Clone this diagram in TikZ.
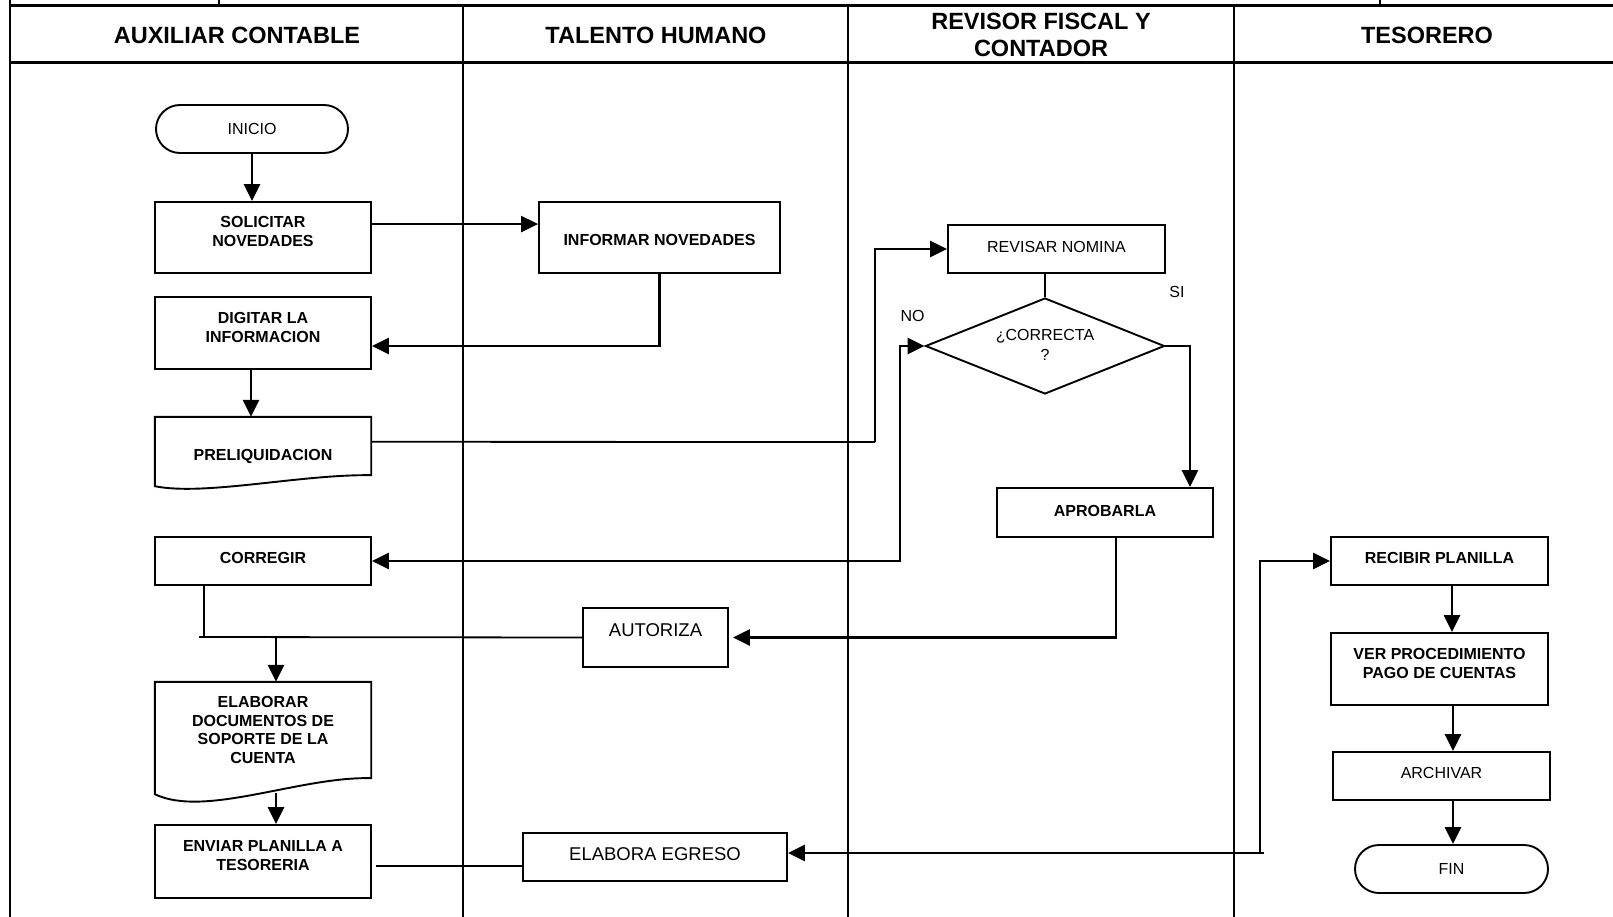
\documentclass[tikz,border=0pt]{standalone}
\usepackage{fontspec}
\setmainfont{Liberation Sans}
\usetikzlibrary{arrows.meta,shapes.geometric,calc}
\begin{document}
\begin{tikzpicture}[x=1pt,y=-1pt,
  box/.style={draw,line width=1.9pt,rectangle,inner sep=0pt},
  stadium/.style={draw,line width=1.9pt,rectangle,rounded corners=24pt,inner sep=0pt},
  btxt/.style={font=\fontsize{16}{19}\selectfont\bfseries,align=center,inner sep=0pt},
  rtxt/.style={font=\fontsize{16}{20}\selectfont,align=center,inner sep=0pt},
  ltxt/.style={font=\fontsize{18.5}{22}\selectfont,align=center,inner sep=0pt},
  htxt/.style={font=\fontsize{23.5}{27}\selectfont\bfseries,align=center,inner sep=0pt},
  arr/.style={line width=2.6pt,-{Triangle[length=17pt,width=16pt]}},
  dblarr/.style={line width=2.6pt,{Triangle[length=17pt,width=16pt]}-{Triangle[length=17pt,width=16pt]}},
  con/.style={line width=1.8pt},
  lane/.style={line width=1.8pt},
  hline/.style={line width=3pt},
  docline/.style={line width=1.9pt}
]
\useasboundingbox (0,0) rectangle (1613,917);
% frame
\draw[lane] (10,0) -- (10,917);
\draw[hline] (10,6) -- (1613,6);
\draw[hline] (10,63) -- (1613,63);
\draw[lane] (219,0) -- (219,6);
\draw[lane] (1380,0) -- (1380,6);
\foreach \x in {463,848,1234} \draw[lane] (\x,6) -- (\x,917);
% headers
\node[htxt] (h1) at (237,35) {AUXILIAR CONTABLE};
\node[htxt] (h2) at (656,35) {TALENTO HUMANO};
\node[htxt] (h3) at (1041,35) {REVISOR FISCAL Y\\CONTADOR};
\node[htxt] (h4) at (1427,35) {TESORERO};
% auxiliar contable
\node[stadium,minimum width=192,minimum height=48,rtxt] (ini) at (252,129) {INICIO};
\node[box,minimum width=216,minimum height=71] (sol) at (263,237.5) {};
\node[btxt] (solt) at (263,231.5) {SOLICITAR\\NOVEDADES};
\node[box,minimum width=216,minimum height=72] (dig) at (263,333) {};
\node[btxt] (digt) at (263,327.5) {DIGITAR LA\\INFORMACION};
\node[inner sep=0pt,minimum width=216,minimum height=58] (pre) at (263,446) {};
\draw[docline] (pre.north east) -- (pre.north west) -- ([yshift=-11pt]pre.south west)
  .. controls ([xshift=50pt,yshift=-21pt]pre.south west) and ([xshift=-71pt,yshift=1pt]pre.south east) .. (pre.south east) -- cycle;
\node[btxt] (pret) at (263,456) {PRELIQUIDACION};
\node[box,minimum width=216,minimum height=48] (cor) at (263,561) {};
\node[btxt] (cort) at (263,558) {CORREGIR};
\node[inner sep=0pt,minimum width=216,minimum height=96] (ela) at (263,730) {};
\draw[docline] (ela.north east) -- (ela.north west) -- ([yshift=-16pt]ela.south west)
  .. controls ([xshift=50pt,yshift=-40pt]ela.south west) and ([xshift=-71pt,yshift=2pt]ela.south east) .. (ela.south east) -- cycle;
\node[btxt,font=\fontsize{16}{18.7}\selectfont\bfseries] (elat) at (263,730) {ELABORAR\\DOCUMENTOS DE\\SOPORTE DE LA\\CUENTA};
\node[box,minimum width=216,minimum height=73] (env) at (263,861.5) {};
\node[btxt] (envt) at (263,855.5) {ENVIAR PLANILLA A\\TESORERIA};
% talento humano
\node[box,minimum width=241,minimum height=71] (inf) at (659.5,237.5) {};
\node[btxt] (inft) at (659.5,240) {INFORMAR NOVEDADES};
\node[box,minimum width=145,minimum height=59] (aut) at (655.5,637.5) {};
\node[ltxt] (autt) at (655.5,630.5) {AUTORIZA};
\node[box,minimum width=264,minimum height=48] (egr) at (655,857) {};
\node[ltxt] (egrt) at (655,854) {ELABORA EGRESO};
% revisor fiscal
\node[box,minimum width=217,minimum height=48] (rev) at (1056.5,249) {};
\node[rtxt] (revt) at (1056.5,247) {REVISAR NOMINA};
\node[draw,diamond,line width=1.9pt,minimum width=239,minimum height=96,inner sep=0pt] (dia) at (1045,346) {};
\node[rtxt] (diat) at (1045,345) {¿CORRECTA\\?};
\node[box,minimum width=216,minimum height=49] (apr) at (1105,512.5) {};
\node[btxt] (aprt) at (1105,511) {APROBARLA};
\node[rtxt] (si) at (1177,292) {SI};
\node[rtxt] (no) at (912.5,316) {NO};
% tesorero
\node[box,minimum width=217,minimum height=48] (rec) at (1439.5,561) {};
\node[btxt] (rect) at (1439.5,558) {RECIBIR PLANILLA};
\node[box,minimum width=217,minimum height=72] (ver) at (1439.5,669) {};
\node[btxt] (vert) at (1439.5,663) {VER PROCEDIMIENTO\\PAGO DE CUENTAS};
\node[box,minimum width=217,minimum height=48] (arc) at (1441.5,776) {};
\node[rtxt] (arct) at (1441.5,773) {ARCHIVAR};
\node[stadium,minimum width=193,minimum height=48,rtxt] (fin) at (1451.5,869) {FIN};
% coordinates for bends
\coordinate (k1) at (875,442);
\coordinate (k2) at (900,561);
\coordinate (j1) at (199,637);
\coordinate (j2) at (276,637);
\coordinate (k3) at (1264,853);
\coordinate (k4) at (1260,853);
% connectors
\draw[arr] (ini.south) -- (ini.south |- sol.north);
\draw[arr] ([yshift=-23pt]sol.north east) -- ([yshift=-23pt]inf.north west);
\draw[arr] (inf.south) |- ([yshift=-13pt]dig.east);
\draw[arr] ([xshift=-12pt]dig.south) -- ([xshift=-12pt]pre.north);
\draw[con] ([yshift=-25pt]pre.north east) -- (k1);
\draw[arr] (k1) |- (rev.west);
\draw[con] (dia.north |- rev.south) -- (dia.north);
\draw[arr] (dia.east) -| ([xshift=-24pt]apr.north east);
\draw[dblarr] (cor.east) -- (k2) |- (dia.west);
\draw[arr] ([xshift=11pt]apr.south) |- ([xshift=4pt]aut.east);
\draw[con] (aut.west) -- (j1);
\draw[con] ([xshift=-59pt]cor.south) -- ([xshift=-59pt]cor.south |- j1);
\draw[arr] (j2) -- (j2 |- ela.north);
\draw[arr] ([xshift=13pt,yshift=-15pt]ela.south) -- ([xshift=13pt]env.north);
\draw[con] ([xshift=4pt,yshift=-4.5pt]env.east) -- ([yshift=-9pt]egr.west);
\draw[arr] (k3) -- ([yshift=4pt]egr.east);
\draw[arr] (k4) |- (rec.west);
\draw[arr] ([xshift=12.5pt]rec.south) -- ([xshift=12.5pt]rec.south |- ver.north);
\draw[arr] ([xshift=13.5pt]ver.south) -- ([xshift=13.5pt]ver.south |- arc.north);
\draw[arr] ([xshift=11.5pt]arc.south) -- ([xshift=11.5pt]arc.south |- fin.north);
\end{tikzpicture}
\end{document}
